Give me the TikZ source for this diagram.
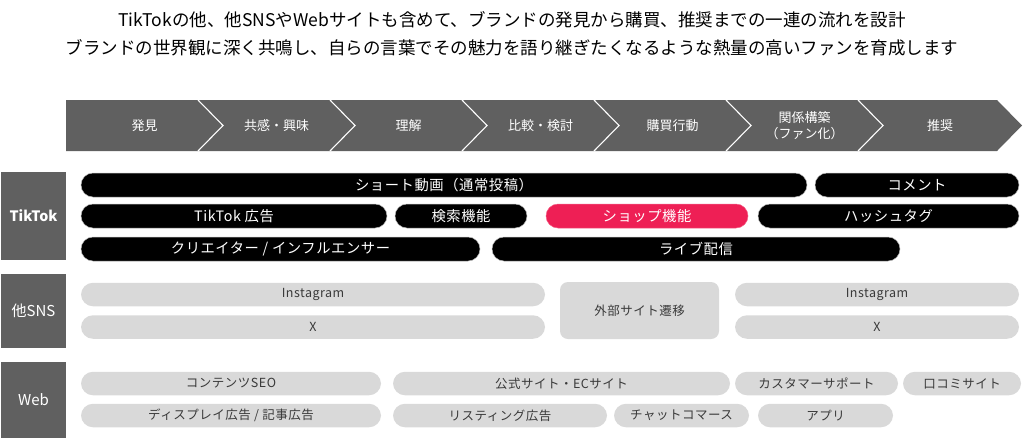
\documentclass[tikz,border=0pt]{standalone}
\usepackage{fontspec}
\setmainfont{Noto Sans CJK JP}
\newfontfamily\pillfont[LetterSpace=4]{Noto Sans CJK JP}
\definecolor{bandgray}{HTML}{606060}
\definecolor{pillgray}{HTML}{D9D9D9}
\definecolor{pilltext}{HTML}{3A3A3A}
\definecolor{shoppink}{HTML}{EE1F55}
\tikzset{
  titletext/.style={font=\fontsize{17.5}{20}\selectfont, text=black, inner sep=0pt},
  steptext/.style={font=\fontsize{13}{17}\selectfont, text=white, inner sep=0pt, align=center},
  catbox/.style={fill=bandgray, draw=none, minimum width=65pt, inner sep=0pt, text=white, font=\fontsize{15}{18}\selectfont},
  blackpill/.style={fill=black, draw=gray!55, line width=0.5pt, rounded corners=12pt, minimum height=24pt, inner sep=0pt, text=white, font=\pillfont\fontsize{14.3}{16}\selectfont},
  pinkpill/.style={blackpill, fill=shoppink, draw=shoppink!70!white},
  graypill/.style={fill=pillgray, draw=none, rounded corners=12pt, minimum height=23.5pt, inner sep=0pt, text=pilltext, font=\pillfont\fontsize{12.5}{15}\selectfont},
  graybox/.style={graypill, rounded corners=8pt},
  sepline/.style={draw=white, line width=1.1pt}
}
\begin{document}
\begin{tikzpicture}[x=1pt,y=-1pt]
\useasboundingbox (0,0) rectangle (1024,437);
% titles
\node[titletext] (t1) at (512,20) {TikTokの他、他SNSやWebサイトも含めて、ブランドの発見から購買、推奨までの一連の流れを設計};
\node[titletext] (t2) at (512,48) {ブランドの世界観に深く共鳴し、自らの言葉でその魅力を語り継ぎたくなるような熱量の高いファンを育成します};
% process band
\fill[bandgray] (66,100) -- (997,100) -- (1022,125.5) -- (997,151) -- (66,151) -- cycle;
\foreach \s in {198,330,462,594,726,858}{
  \draw[sepline] (\s,100) -- (\s+25,125.5) -- (\s,151);
}
\node[steptext] (s1) at (144.5,125.5) {発見};
\node[steptext] (s2) at (276.5,125.5) {共感・興味};
\node[steptext] (s3) at (408.5,125.5) {理解};
\node[steptext] (s4) at (540.5,125.5) {比較・検討};
\node[steptext] (s5) at (672.5,125.5) {購買行動};
\node[steptext, font=\fontsize{13}{16}\selectfont] (s6) at (804.5,125.5) {関係構築\\（ファン化）};
\node[steptext] (s7) at (940,125.5) {推奨};
% categories
\node[catbox, minimum height=88pt, font=\bfseries\fontsize{14.3}{18}\selectfont] (ctik) at (33.5,216) {TikTok};
\node[catbox, minimum height=74pt] (csns) at (33.5,311) {他SNS};
\node[catbox, minimum height=76pt] (cweb) at (33.5,400) {Web};
% TikTok rows
\node[blackpill, minimum width=726pt] (short) at (444,185) {ショート動画（通常投稿）};
\node[blackpill, minimum width=204pt] (comment) at (917,185) {コメント};
\node[blackpill, minimum width=306pt] (ttad) at (234,216) {TikTok 広告};
\node[blackpill, minimum width=132pt] (search) at (461,216) {検索機能};
\node[pinkpill, minimum width=202pt] (shop) at (647,216) {ショップ機能};
\node[blackpill, minimum width=261pt] (hashtag) at (888.5,216) {ハッシュタグ};
\node[blackpill, minimum width=399pt] (creator) at (280.5,249) {クリエイター / インフルエンサー};
\node[blackpill, minimum width=408pt] (live) at (696,249) {ライブ配信};
% other SNS rows
\node[graypill, minimum width=464pt] (ig1) at (313,294.5) {Instagram};
\node[graypill, minimum width=464pt] (x1) at (313,327) {X};
\node[graybox, minimum width=159pt, minimum height=57pt] (ext) at (639.5,310.5) {外部サイト遷移};
\node[graypill, minimum width=284pt] (ig2) at (877,294.5) {Instagram};
\node[graypill, minimum width=284pt] (x2) at (877,327) {X};
% Web rows
\node[graypill, minimum width=300pt] (seo) at (231,383.5) {コンテンツSEO};
\node[graypill, minimum width=337pt] (official) at (561.5,383.5) {公式サイト・ECサイト};
\node[graypill, minimum width=163pt] (support) at (816.5,383.5) {カスタマーサポート};
\node[graypill, minimum width=118pt] (review) at (962,383.5) {口コミサイト};
\node[graypill, minimum width=300pt] (display) at (231,415.5) {ディスプレイ広告 / 記事広告};
\node[graypill, minimum width=214pt] (listing) at (500,415.5) {リスティング広告};
\node[graypill, minimum width=135pt] (chat) at (681.5,415.5) {チャットコマース};
\node[graypill, minimum width=135pt] (app) at (825.5,415.5) {アプリ};
\end{tikzpicture}
\end{document}
